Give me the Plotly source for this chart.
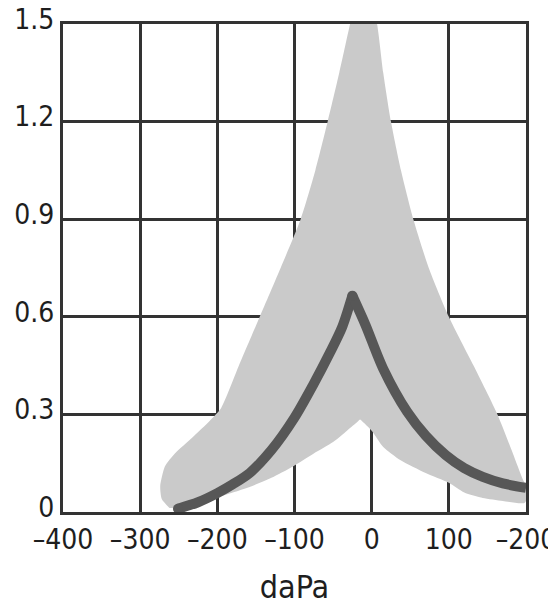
import plotly.graph_objects as go

# Pressure axis (daPa) and tick labels
x_ticks = [-400, -300, -200, -100, 0, 100, 200]
x_labels = ["–400", "–300", "–200", "–100", "0", "100", "–200"]
y_ticks = [0, 0.3, 0.6, 0.9, 1.2, 1.5]
y_labels = ["0", "0.3", "0.6", "0.9", "1.2", "1.5"]

# Normal range band: outline, counter-clockwise from the lower-left corner
band_x = [-262, -272, -274, -268, -255, -232, -210, -195, -172, -145, -118,
          -92, -73, -57, -42, -28, -10, 7, 15, 25, 38, 54, 74, 100, 132,
          163, 183, 196, 204, 198, 170, 144, 120, 100, 70, 37, 15, 0, -12, -15, -18,
          -32, -50, -75, -102, -130, -158, -180, -200, -225, -250]
band_y = [0.012, 0.04, 0.08, 0.14, 0.18, 0.23, 0.28, 0.32, 0.45, 0.6, 0.75,
          0.9, 1.05, 1.2, 1.35, 1.5, 1.68, 1.5, 1.35, 1.2, 1.05, 0.9, 0.75, 0.6, 0.45,
          0.3, 0.18, 0.1, 0.06, 0.028, 0.034, 0.043, 0.06, 0.09, 0.12, 0.16, 0.2, 0.25, 0.278, 0.284, 0.278,
          0.25, 0.215, 0.18, 0.14, 0.105, 0.077, 0.06, 0.045, 0.028, 0.012]

# Measured compliance curve, split at its peak
left_x = [-251, -225, -200, -180, -158, -130, -100, -76, -54, -38, -25]
left_y = [0.01, 0.03, 0.058, 0.085, 0.12, 0.19, 0.29, 0.39, 0.49, 0.57, 0.665]
right_x = [-25, -8, 15, 46, 70, 96, 120, 144, 170, 200]
right_y = [0.665, 0.575, 0.44, 0.308, 0.235, 0.175, 0.135, 0.108, 0.088, 0.074]

FONT = "DejaVu Sans Condensed, Liberation Sans Narrow, sans-serif"
GRID = "#333333"
CURVE = "#575757"
BAND = "#cacaca"

fig = go.Figure()
fig.add_trace(go.Scatter(x=band_x, y=band_y, fill="toself", mode="lines",
                         fillcolor=BAND, line=dict(width=0, color=BAND, shape="spline", smoothing=0.6),
                         hoverinfo="skip", showlegend=False))
for xs, ys in ((left_x, left_y), (right_x, right_y)):
    fig.add_trace(go.Scatter(x=xs, y=ys, mode="lines",
                             line=dict(color=CURVE, width=10, shape="spline", smoothing=0.8),
                             showlegend=False))
# rounded start of the curve and a closed peak joint
fig.add_trace(go.Scatter(x=[left_x[0], right_x[0]], y=[left_y[0], right_y[0]], mode="markers",
                         marker=dict(color=CURVE, size=10, line=dict(width=0)), showlegend=False))

fig.update_layout(
    width=548, height=606,
    margin=dict(l=63, r=22, t=24, b=94),
    paper_bgcolor="white", plot_bgcolor="white",
    font=dict(family=FONT, size=28, color="#1e1e1e"),
    showlegend=False,
)
fig.update_xaxes(range=[-400, 200], tickvals=x_ticks, ticktext=x_labels,
                 showgrid=True, gridcolor=GRID, gridwidth=3, zeroline=False,
                 showline=True, linecolor=GRID, linewidth=3, mirror=True,
                 ticks="", layer="above traces", ticklabeloverflow="allow",
                 automargin=False, ticklabelstandoff=0,
                 title=dict(text="daPa", font=dict(size=32), standoff=22))
fig.update_yaxes(range=[0, 1.5], tickvals=y_ticks, ticktext=y_labels,
                 showgrid=True, gridcolor=GRID, gridwidth=3, zeroline=False,
                 showline=True, linecolor=GRID, linewidth=3, mirror=True,
                 ticks="", layer="above traces", ticklabelshift=-5, automargin=False)

fig.write_html("out.html")
